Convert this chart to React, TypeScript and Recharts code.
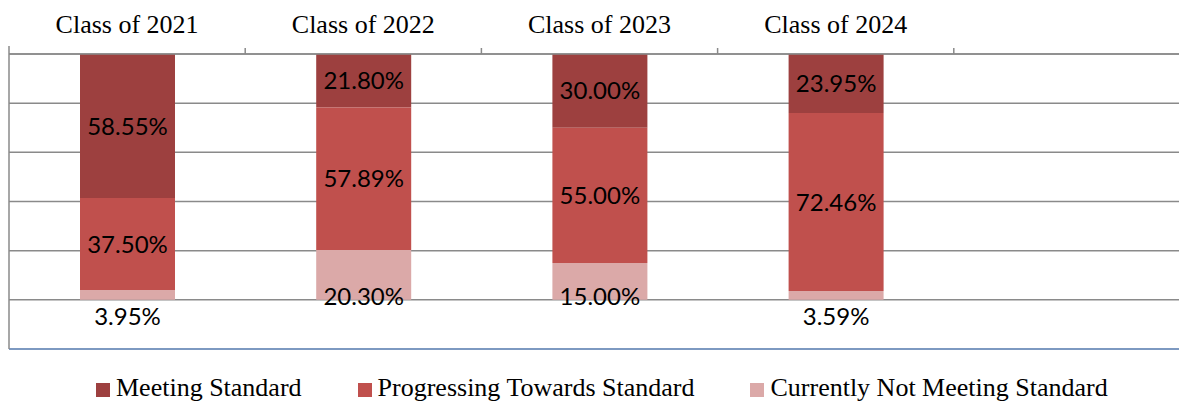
import { BarChart, Bar, XAxis, YAxis, CartesianGrid, ReferenceLine, LabelList } from "recharts";

const classes = ["Class of 2021", "Class of 2022", "Class of 2023", "Class of 2024", ""];
const meeting = [58.55, 21.8, 30.0, 23.95, null];
const progressing = [37.5, 57.89, 55.0, 72.46, null];
const notMeeting = [3.95, 20.3, 15.0, 3.59, null];
const yTicks = [0, 20, 40, 60, 80, 100, 120];

const SERIES = [
  { key: "meeting", name: "Meeting Standard", color: "#9d403f" },
  { key: "progressing", name: "Progressing Towards Standard", color: "#c0504d" },
  { key: "notMeeting", name: "Currently Not Meeting Standard", color: "#dba9a8" },
];

const data = classes.map((c, i) => ({
  name: c,
  meeting: meeting[i],
  progressing: progressing[i],
  notMeeting: notMeeting[i],
}));

/* ── layout ─────────────────────────────────────────────────────────────── */
const CHART_W = 1200;
const CHART_H = 402;
const MARGIN = { top: 0, right: 10, left: 8, bottom: 53 };
const AXIS_Y = 54;
const BAND = (CHART_W - MARGIN.left - 1 - MARGIN.right) / classes.length;
const GRID = "#8a8a8a";
const LABEL_FONT = "Lato, 'Open Sans', sans-serif";
const SERIF = "'Liberation Serif', 'Times New Roman', serif";

/* ── top category tick with boundary marks ──────────────────────────────── */
function CategoryTick(props: any) {
  const { x, payload, index } = props;
  const half = BAND / 2;
  return (
    <g>
      {payload.value ? (
        <text x={x} y={33} textAnchor="middle" fontFamily={SERIF} fontSize={26} fill="#000">
          {payload.value}
        </text>
      ) : null}
      <line x1={x + half} x2={x + half} y1={AXIS_Y - 6} y2={AXIS_Y} stroke={GRID} strokeWidth={1.5} />
      {index === 0 && <line x1={x - half} x2={x - half} y1={AXIS_Y - 8} y2={AXIS_Y} stroke={GRID} strokeWidth={1.5} />}
    </g>
  );
}

function fmt(v: number) {
  return `${v.toFixed(2)}%`;
}

function CenterLabel(props: any) {
  const { x, y, width, height, value } = props;
  if (value == null) return null;
  const top = Math.min(y, y + height);
  const cy = top + Math.abs(height) / 2;
  return (
    <text x={x + width / 2} y={cy + 8.6} textAnchor="middle" fontFamily={LABEL_FONT} fontSize={24} fill="#000">
      {fmt(value)}
    </text>
  );
}

// bottom segment: label sits on the bar's base, or under it when the slice is thin
function BaseLabel(props: any) {
  const { x, y, width, height, value } = props;
  if (value == null) return null;
  const bottom = Math.max(y, y + height);
  const cy = Math.abs(height) < 20 ? bottom + 17 : bottom - 3;
  return (
    <text x={x + width / 2} y={cy + 8.6} textAnchor="middle" fontFamily={LABEL_FONT} fontSize={24} fill="#000">
      {fmt(value)}
    </text>
  );
}

const NoTick = () => <g />;

export default function App() {
  return (
    <div style={{ position: "absolute", left: 0, top: 0, width: 1179, height: 402, overflow: "hidden", background: "#fff" }}>
      <BarChart width={CHART_W} height={CHART_H} data={data} margin={MARGIN}>
        <CartesianGrid vertical={false} stroke={GRID} strokeWidth={1.5} />
        <XAxis
          dataKey="name"
          orientation="top"
          height={AXIS_Y}
          axisLine={{ stroke: GRID, strokeWidth: 1.5 }}
          tickLine={false}
          tick={<CategoryTick />}
          interval={0}
        />
        <YAxis
          reversed
          domain={[0, 120]}
          ticks={yTicks}
          interval={0}
          width={1}
          tick={<NoTick />}
          tickLine={false}
          axisLine={{ stroke: GRID, strokeWidth: 1.5 }}
        />
        <ReferenceLine y={120} stroke="#7d99c1" strokeWidth={2} ifOverflow="extendDomain" />
        <Bar dataKey="meeting" stackId="s" fill={SERIES[0].color} barSize={95} isAnimationActive={false}>
          <LabelList dataKey="meeting" content={<CenterLabel />} />
        </Bar>
        <Bar dataKey="progressing" stackId="s" fill={SERIES[1].color} barSize={95} isAnimationActive={false}>
          <LabelList dataKey="progressing" content={<CenterLabel />} />
        </Bar>
        <Bar dataKey="notMeeting" stackId="s" fill={SERIES[2].color} barSize={95} isAnimationActive={false}>
          <LabelList dataKey="notMeeting" content={<BaseLabel />} />
        </Bar>
      </BarChart>
      <div
        style={{
          position: "absolute",
          left: 96,
          top: 373,
          display: "flex",
          gap: 56,
          fontFamily: SERIF,
          fontSize: 26,
          lineHeight: "30px",
          whiteSpace: "nowrap",
          color: "#000",
        }}
      >
        {SERIES.map((s) => (
          <div key={s.key} style={{ display: "flex", alignItems: "center" }}>
            <span style={{ width: 14, height: 14, background: s.color, marginRight: 6, marginTop: 4 }} />
            <span>{s.name}</span>
          </div>
        ))}
      </div>
    </div>
  );
}
